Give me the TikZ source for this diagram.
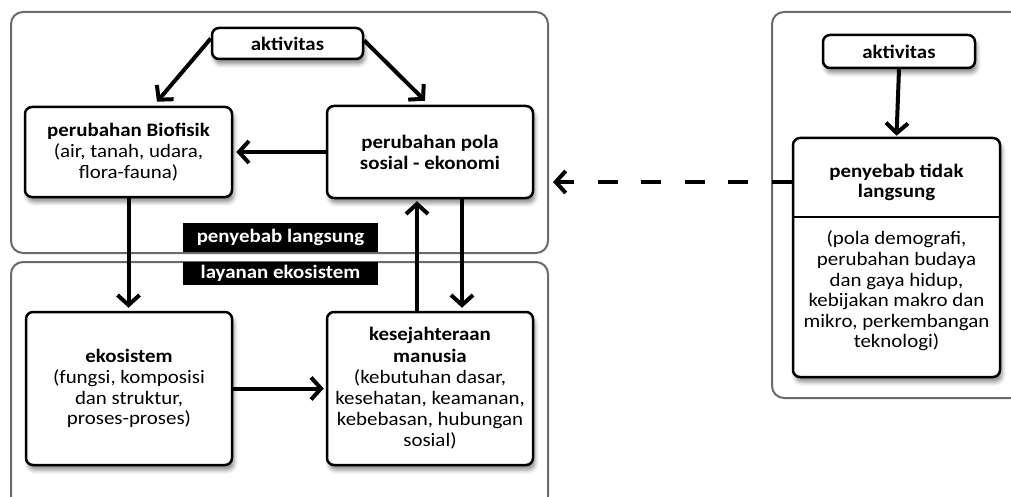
\documentclass[tikz,border=0pt]{standalone}
\usepackage{fontspec}
\setmainfont{Carlito}[FakeStretch=1.1]
\usetikzlibrary{arrows.meta,shadows.blur,calc}
\begin{document}
\begin{tikzpicture}[x=1pt,y=-1pt,
  cont/.style={draw=black!58, line width=2pt, rounded corners=12pt, inner sep=0pt},
  box/.style={draw=black, line width=2.5pt, fill=white, rounded corners=7pt,
    blur shadow={shadow xshift=2pt, shadow yshift=-5pt, shadow blur radius=4pt, shadow opacity=45},
    inner sep=0pt, align=center, font=\fontsize{19}{20.9}\selectfont},
  txt/.style={inner sep=0pt, align=center, font=\fontsize{19}{20.6}\selectfont},
  lbl/.style={fill=black, text=white, inner sep=0pt, font=\bfseries\fontsize{19}{20}\selectfont},
  arr/.style={line width=4pt, -{Straight Barb[length=10pt,width=22pt]}},
]
\useasboundingbox (0,0) rectangle (1011,497);
% containers
\node[cont, minimum width=537pt, minimum height=241pt] (top) at (279.5,132.5) {};
\node[cont, minimum width=537pt, minimum height=258pt] (bot) at (279.5,391) {};
\node[cont, minimum width=258pt, minimum height=386pt] (right) at (901,205) {};
% labels
\node[lbl, minimum width=195pt, minimum height=29pt] (lbl1) at (280.5,237.5) {penyebab langsung};
\node[lbl, minimum width=195pt, minimum height=23pt] (lbl2) at (280.5,273.5) {layanan ekosistem};
% boxes
\node[box, minimum width=151pt, minimum height=31pt] (akt1) at (287.5,43.5) {\textbf{aktivitas}};
\node[box, minimum width=207pt, minimum height=90pt] (bio) at (128.5,152) {\textbf{perubahan Biofisik}\\(air, tanah, udara,\\flora-fauna)};
\node[box, minimum width=206pt, minimum height=92pt] (pola) at (430,152) {\textbf{perubahan pola}\\\textbf{sosial - ekonomi}};
\node[box, minimum width=206pt, minimum height=153pt] (eko) at (129,388.5) {\textbf{ekosistem}\\(fungsi, komposisi\\dan struktur,\\proses-proses)};
\node[box, minimum width=206pt, minimum height=153pt, font=\fontsize{19}{21.2}\selectfont] (kes) at (430,388.5) {\textbf{kesejahteraan}\\\textbf{manusia}\\(kebutuhan dasar,\\kesehatan, keamanan,\\kebebasan, hubungan\\sosial)};
\node[box, minimum width=152pt, minimum height=33pt] (akt2) at (899,51.5) {\textbf{aktivitas}};
\node[box, minimum width=207pt, minimum height=239pt] (pt) at (896.5,257.5) {};
\coordinate (dv) at (0,217);
\draw[line width=2pt] (pt.west |- dv) -- (pt.east |- dv);
\node[txt] (ptt) at (896.5,182.5) {\textbf{penyebab tidak}\\\textbf{langsung}};
\node[txt] (ptb) at (896.5,291) {(pola demografi,\\perubahan budaya\\dan gaya hidup,\\kebijakan makro dan\\mikro, perkembangan\\teknologi)};
% arrows
\draw[arr] ([yshift=5pt]akt1.west) -- ([xshift=28.5pt,yshift=4pt]bio.north);
\draw[arr] ([yshift=3pt]akt1.east) -- ([xshift=-5pt,yshift=4pt]pola.north);
\draw[arr] (pola.west) -- ([xshift=3pt]bio.east);
\draw[arr, shorten >=3pt] (bio.south) -- (bio.south |- eko.north);
\draw[arr, shorten >=2pt] ([xshift=-13pt]kes.north) -- ([xshift=-13pt]pola.south);
\draw[arr, shorten >=3pt] ([xshift=32pt]pola.south) -- ([xshift=32pt]kes.north);
\draw[arr, shorten >=2pt] (eko.east) -- (eko.east -| kes.west);
\draw[arr, shorten >=1pt] (akt2.south) -- (pt.north);
\coordinate (dy) at (0,182);
\draw[arr, dash pattern=on 20pt off 23.5pt, shorten >=4pt] (pt.west |- dy) -- (top.east |- dy);
\end{tikzpicture}
\end{document}
